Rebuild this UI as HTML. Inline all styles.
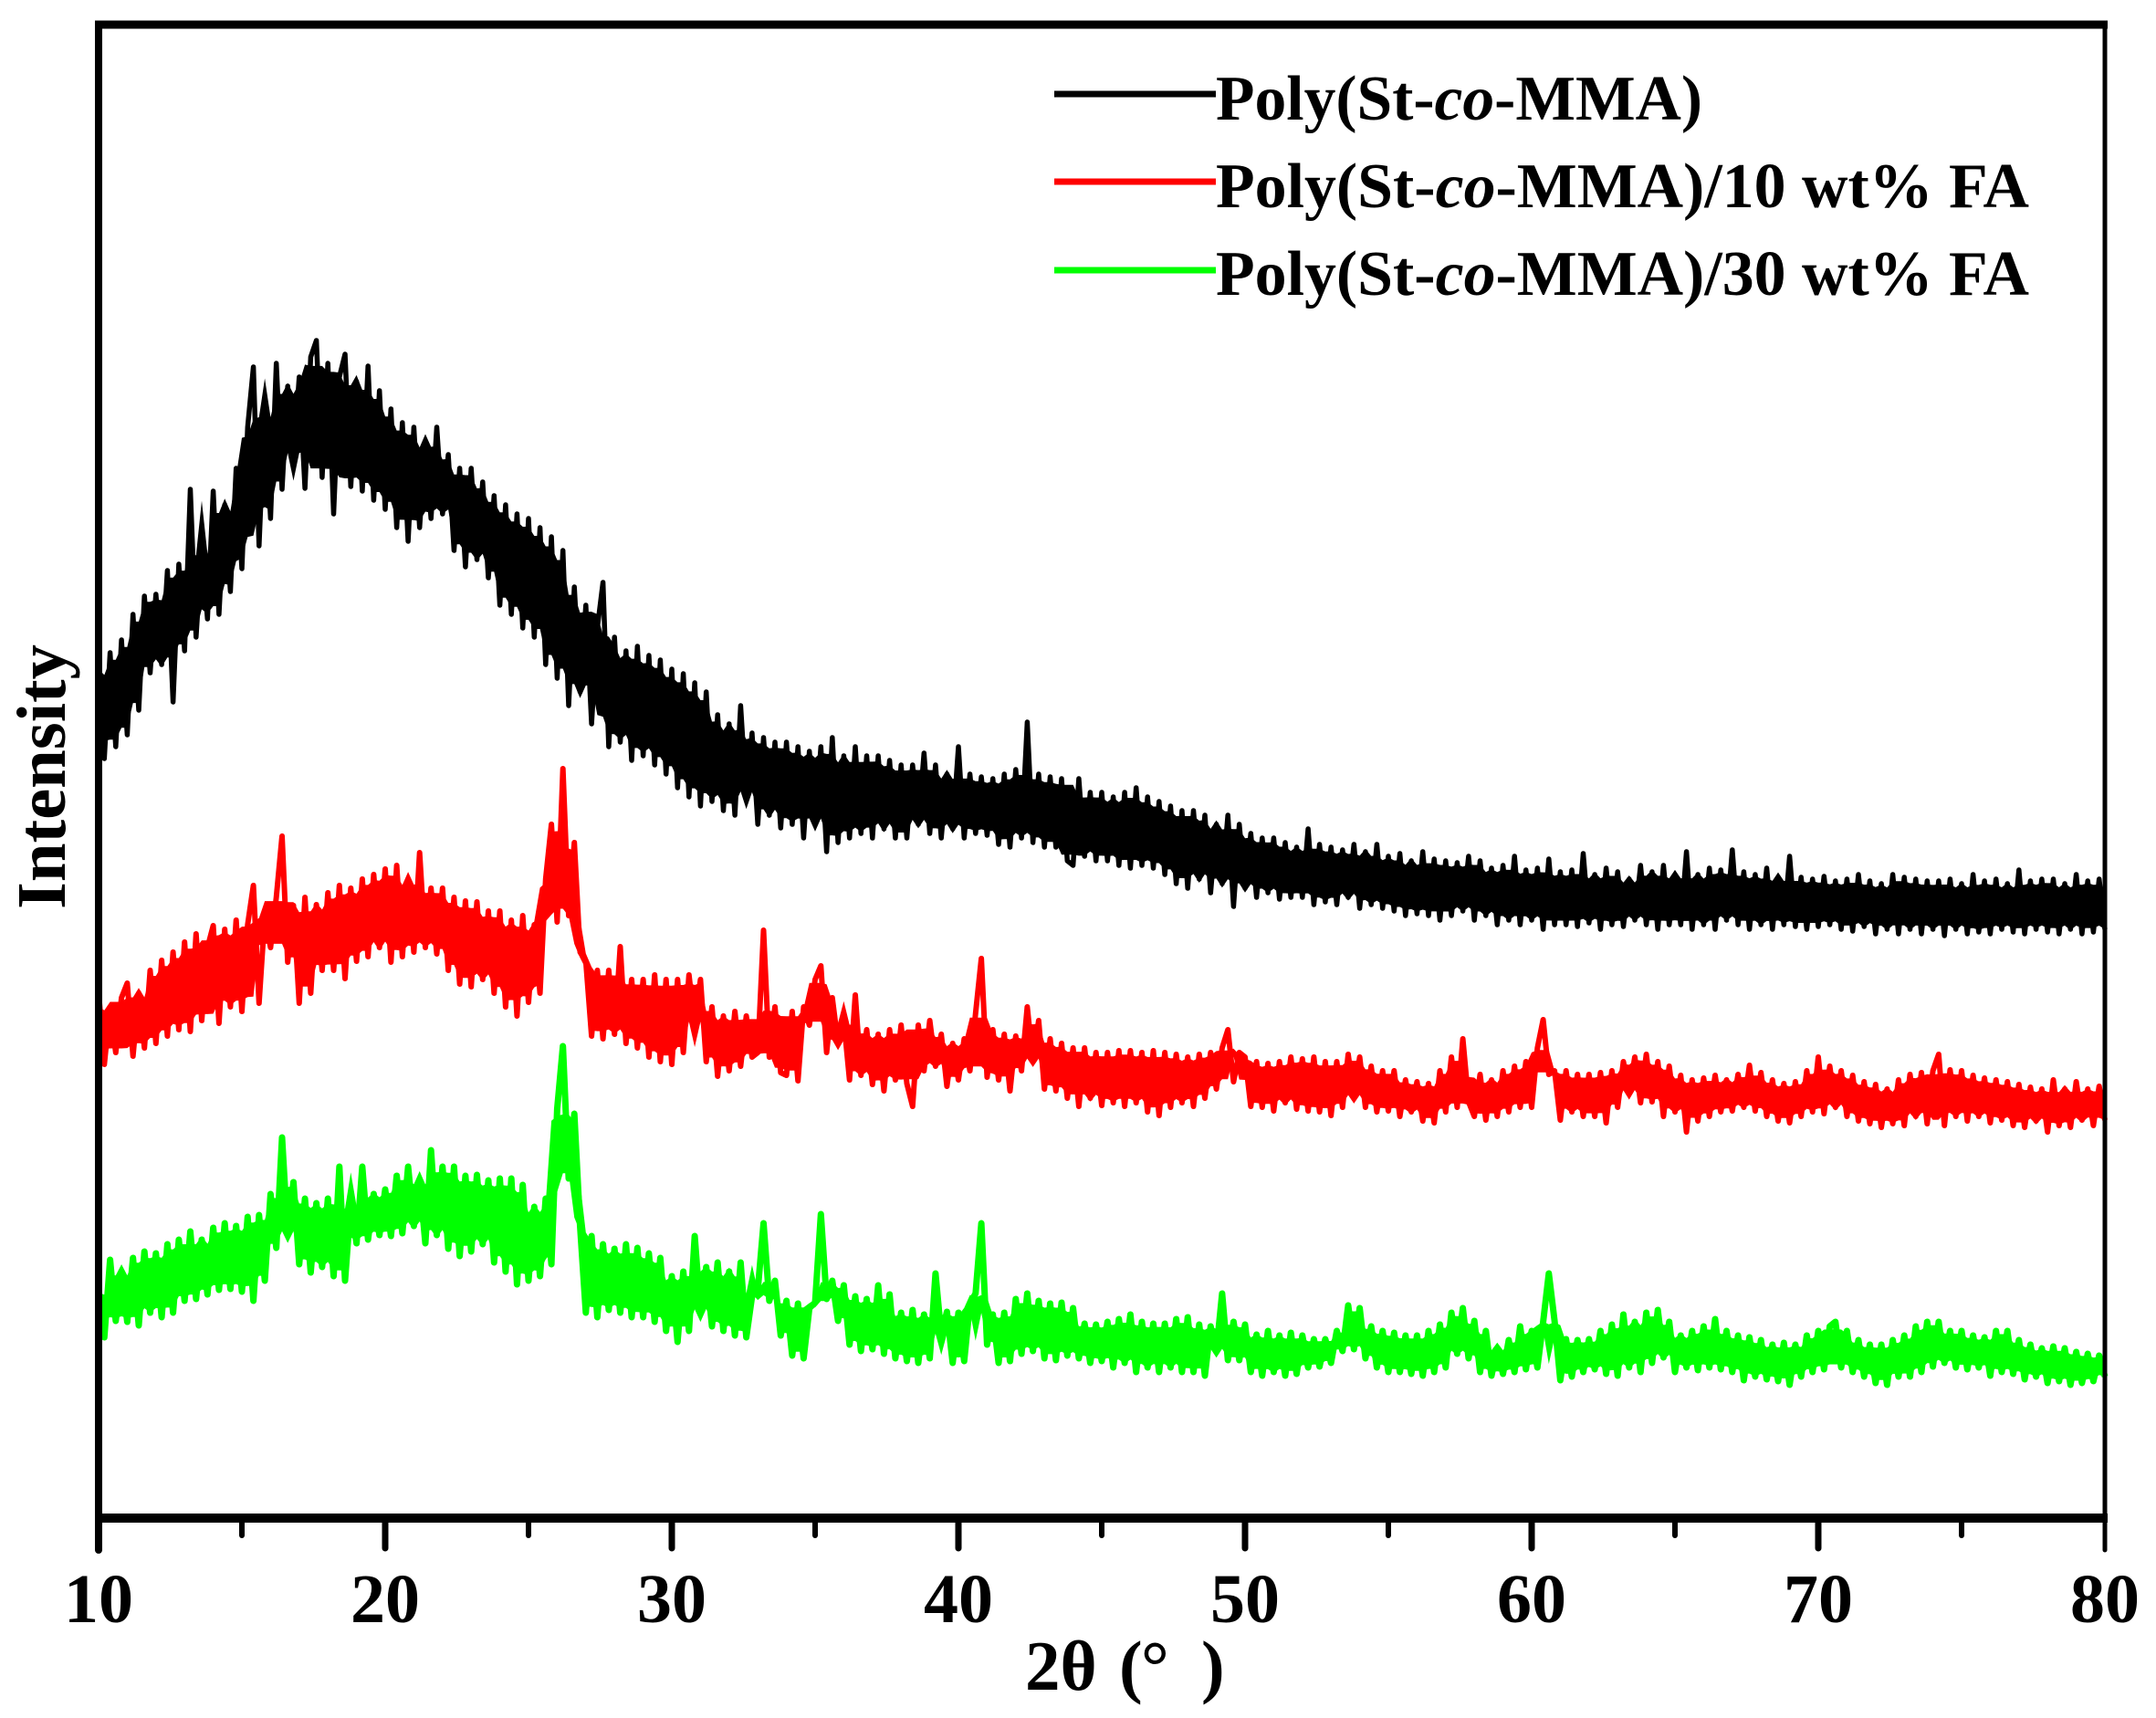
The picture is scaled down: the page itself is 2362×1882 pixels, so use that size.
<!DOCTYPE html>
<html lang="en">
<head>
<meta charset="utf-8">
<title>XRD patterns of Poly(St-co-MMA) and fly ash composites</title>
<style>
html,body{margin:0;padding:0;background:#fff;}
svg{display:block;}
text{font-family:"Liberation Serif",serif;font-weight:bold;fill:#000;}
</style>
</head>
<body>
<svg id="chart" xmlns="http://www.w3.org/2000/svg" width="2362" height="1882" viewBox="0 0 2362 1882">
  <rect x="0" y="0" width="2362" height="1882" fill="#fff"/>
  <g id="series-layer"></g>
  <g id="axis-layer"></g>
  <g>
    <line x1="1155" x2="1332" y1="103" y2="103" stroke="#000" stroke-width="7"/>
    <text x="1332" y="131" font-size="70" textLength="533" lengthAdjust="spacingAndGlyphs">Poly(St-<tspan font-style="italic">co</tspan>-MMA)</text>
    <line x1="1155" x2="1332" y1="199" y2="199" stroke="#ff0000" stroke-width="7"/>
    <text x="1332" y="227" font-size="70" textLength="891" lengthAdjust="spacingAndGlyphs">Poly(St-<tspan font-style="italic">co</tspan>-MMA)/10 wt% FA</text>
    <line x1="1155" x2="1332" y1="296" y2="296" stroke="#00ff00" stroke-width="7"/>
    <text x="1332" y="323" font-size="70" textLength="891" lengthAdjust="spacingAndGlyphs">Poly(St-<tspan font-style="italic">co</tspan>-MMA)/30 wt% FA</text>
  </g>
  <text x="0" y="0" font-size="76" text-anchor="middle" textLength="290" lengthAdjust="spacingAndGlyphs" transform="translate(71 851) rotate(-90)">Intensity</text>
  <text y="1851" font-size="77"><tspan x="1123">2θ</tspan><tspan x="1226">(</tspan><tspan x="1250">°</tspan><tspan x="1316">)</tspan></text>
</svg>
<script>
// 2θ sampling of the traces (degrees)
const thetaStart = 10;
const thetaStep = 0.2;
// x axis
const xMin = 10;
const xMax = 80;
const majorTicks = [10, 20, 30, 40, 50, 60, 70, 80];
const minorTicks = [15, 25, 35, 45, 55, 65, 75];
// y axis (arbitrary intensity units, no printed ticks)
const yMin = 0;
const yMax = 1636;

// Poly(St-co-MMA)
const intensityCopolymer = [
930,832,948,845,962, 858,990,885,1010,926, 1012,935,1038,894,1045, 950,1127,965,1062,985,
1125,990,1110,1015,1150, 1040,1195,1261,1065,1215, 1095,1265,1127,1240,1160, 1250,1128,1272,1290,1140,
1265,1100,1250,1275,1130, 1245,1125,1262,1115,1235, 1105,1215,1085,1200,1070, 1195,1085,1180,1095,1195,
1100,1165,1060,1150,1042, 1150,1050,1135,1030,1120, 1000,1110,990,1100,975, 1095,965,1085,935,1075,
920,1060,890,1020,905, 1000,870,975,1025,845, 965,850,950,830,955, 835,945,825,940,815,
930,800,925,790,915, 780,905,785,880,775, 870,770,890,790,860, 760,855,770,850,756,
850,760,845,745,840, 760,845,730,855,740, 835,745,845,750,835, 745,835,755,830,745,
825,745,825,760,838, 750,825,745,815,755, 845,745,815,750,812, 748,810,738,815,735,
820,745,872,740,815, 735,812,735,810,720, 715,810,725,795,720, 795,720,790,715,795,
712,800,715,790,712, 785,705,780,695,775, 690,775,700,770,685, 760,695,770,670,760,
690,750,680,745,685, 745,678,740,680,735, 680,755,672,738,675, 735,672,732,680,738,
668,730,672,738,668, 725,665,728,660,720, 662,730,660,722,655, 720,660,718,665,725,
655,720,660,712,650, 715,655,725,650,710, 655,712,645,722,650, 708,650,710,648,728,
652,705,645,712,650, 708,648,700,655,715, 650,708,645,715,650, 705,650,730,645,705,
650,712,645,710,655, 732,650,708,645,705, 650,712,645,702,650, 725,648,702,645,700,
648,703,650,698,645, 700,643,705,648,698, 640,695,645,705,640, 702,645,700,640,698,
645,698,638,700,645, 695,640,705,642,698, 640,700,645,695,642, 710,640,698,645,700,
642,700,640,695,645, 705,640,698,642,700, 645
];

// Poly(St-co-MMA)/10 wt% FA
const intensityFa10 = [
577,497,560,510,570, 586,506,575,515,600, 520,611,528,620,535, 631,533,640,545,625,
649,542,645,560,655, 555,650,693,564,660, 625,680,747,609,671, 564,680,575,672,600,
685,600,693,591,690, 610,700,615,705,625, 711,609,715,615,700, 620,729,625,690,618,
690,600,680,585,676, 582,675,590,665,575, 665,560,655,550,660, 565,650,575,700,760,
653,821,660,740,620, 610,528,600,525,600, 530,626,520,590,515, 590,505,595,500,590,
497,590,510,595,540, 590,500,560,484,550, 490,555,495,550,505, 510,644,505,560,488,
485,555,479,560,540, 590,605,510,570,520, 545,480,573,485,535, 475,530,468,535,480,
540,476,451,540,490, 545,495,530,473,520, 480,525,490,553,613, 483,535,480,530,468,
528,490,560,500,545, 470,525,468,520,460, 515,451,515,460,510, 452,510,455,512,451,
512,455,510,445,512, 441,510,450,508,455, 505,451,508,460,510, 470,515,535,478,510,
505,451,500,450,498, 446,500,455,505,448, 503,446,505,445,500, 441,500,450,508,460,
505,450,495,445,490, 446,490,440,480,445, 478,435,476,433,490, 445,505,450,525,456,
440,486,436,480,440, 490,445,495,450,500, 450,515,546,486,490, 436,490,445,486,440,
486,440,488,433,490, 450,500,466,505,455, 508,456,500,440,495, 445,485,423,480,435,
482,440,485,445,480, 446,486,450,496,446, 488,440,480,435,476, 433,478,440,490,445,
505,443,495,450,490, 440,485,435,478,432, 475,428,470,432,480, 430,486,440,488,432,
490,508,430,491,440, 490,435,485,440,482, 433,480,436,478,430, 475,428,472,435,470,
423,480,430,470,428, 478,436,470,430,473, 436
];

// Poly(St-co-MMA)/30 wt% FA
const intensityFa30 = [
247,198,283,216,270, 215,285,211,292,225, 290,220,300,225,305, 238,314,240,305,245,
318,250,323,251,320, 248,330,238,332,260, 355,296,417,310,368, 278,350,269,345,275,
350,265,385,260,345, 301,385,305,355,310, 360,309,375,312,385, 320,370,301,403,310,
385,295,385,287,375, 292,376,300,370,280, 372,270,372,256,365, 260,341,265,350,278,
448,517,372,443,320, 225,309,220,300,228, 295,225,300,220,296, 220,290,215,285,205,
265,193,270,205,309, 225,275,210,280,205, 270,200,280,198,243, 250,323,238,260,200,
238,178,235,175,230, 236,333,240,260,216, 255,190,243,183,240, 185,255,180,245,175,
225,172,228,170,223, 175,268,200,226,170, 225,172,235,246,323, 190,223,170,225,172,
240,180,246,183,238, 175,235,173,236,178, 230,175,213,170,212, 172,215,165,218,170,
223,160,215,165,213, 160,213,165,218,160, 220,160,212,156,210, 183,246,173,215,173,
212,160,201,156,205, 160,200,156,203,158, 200,165,196,166,196, 170,205,183,233,185,
230,175,210,165,205, 160,203,160,200,158, 200,156,205,160,212, 165,225,180,230,175,
216,160,205,156,186, 158,195,160,210,163, 205,165,215,268,216, 151,196,155,195,160,
196,163,205,158,212, 156,223,165,215,160, 225,170,228,176,215, 160,200,165,205,162,
210,165,218,163,205, 160,200,151,198,155, 195,152,190,150,192, 146,190,155,200,160,
205,163,210,215,165, 205,160,195,155,190, 148,190,146,195,155, 200,155,210,160,215,
166,215,170,205,165, 205,163,200,165,198, 156,205,160,205,158, 195,152,190,155,186,
148,188,150,186,146, 182,148,180,150,178, 155
];

const plotLeft = 108;
const plotRight = 2306;
const plotTop = 27;
const plotBottom = 1663;
const coreFraction = 0.85;
const coreWindow = 2;
const svgNS = 'http://www.w3.org/2000/svg';

function xScale(theta) {
  return plotLeft + (theta - xMin) / (xMax - xMin) * (plotRight - plotLeft);
}
function yScale(value) {
  return plotBottom - (value - yMin) / (yMax - yMin) * (plotBottom - plotTop);
}
function tracePoints(values) {
  return values.map(function (v, i) {
    return xScale(thetaStart + i * thetaStep).toFixed(1) + ',' + yScale(v).toFixed(1);
  }).join(' ');
}
// Solid noise core: at each sample, the span between the second-lowest and
// second-highest neighbouring values, so isolated spikes stay thin lines.
function corePoints(values) {
  const upper = [];
  const lower = [];
  for (let i = 0; i < values.length; i++) {
    const win = values.slice(Math.max(0, i - coreWindow), i + coreWindow + 1).sort(function (a, b) { return a - b; });
    const hi = win[win.length - 2];
    const lo = win[1];
    const mid = (hi + lo) / 2;
    const half = (hi - lo) / 2 * coreFraction;
    const x = xScale(thetaStart + i * thetaStep).toFixed(1);
    upper.push(x + ',' + yScale(mid + half).toFixed(1));
    lower.unshift(x + ',' + yScale(mid - half).toFixed(1));
  }
  return upper.concat(lower).join(' ');
}
function makeLine(x1, y1, x2, y2, width, cap) {
  const el = document.createElementNS(svgNS, 'line');
  el.setAttribute('x1', x1);
  el.setAttribute('y1', y1);
  el.setAttribute('x2', x2);
  el.setAttribute('y2', y2);
  el.setAttribute('stroke', '#000');
  el.setAttribute('stroke-width', width);
  el.setAttribute('stroke-linecap', cap);
  return el;
}

const seriesLayer = document.getElementById('series-layer');
const axisLayer = document.getElementById('axis-layer');

const coreBlack = document.createElementNS(svgNS, 'polygon');


coreBlack.setAttribute('points', corePoints(intensityCopolymer));
coreBlack.setAttribute('fill', '#000000');
seriesLayer.appendChild(coreBlack);

const traceBlack = document.createElementNS(svgNS, 'polyline');


traceBlack.setAttribute('points', tracePoints(intensityCopolymer));
traceBlack.setAttribute('fill', 'none');
traceBlack.setAttribute('stroke', '#000000');
traceBlack.setAttribute('stroke-width', '5.5');
traceBlack.setAttribute('stroke-linejoin', 'round');
seriesLayer.appendChild(traceBlack);

const coreRed = document.createElementNS(svgNS, 'polygon');


coreRed.setAttribute('points', corePoints(intensityFa10));
coreRed.setAttribute('fill', '#ff0000');
seriesLayer.appendChild(coreRed);

const traceRed = document.createElementNS(svgNS, 'polyline');


traceRed.setAttribute('points', tracePoints(intensityFa10));
traceRed.setAttribute('fill', 'none');
traceRed.setAttribute('stroke', '#ff0000');
traceRed.setAttribute('stroke-width', '6');
traceRed.setAttribute('stroke-linejoin', 'round');
seriesLayer.appendChild(traceRed);

const coreGreen = document.createElementNS(svgNS, 'polygon');


coreGreen.setAttribute('points', corePoints(intensityFa30));
coreGreen.setAttribute('fill', '#00ff00');
seriesLayer.appendChild(coreGreen);

const traceGreen = document.createElementNS(svgNS, 'polyline');


traceGreen.setAttribute('points', tracePoints(intensityFa30));
traceGreen.setAttribute('fill', 'none');
traceGreen.setAttribute('stroke', '#00ff00');
traceGreen.setAttribute('stroke-width', '7');
traceGreen.setAttribute('stroke-linejoin', 'round');
seriesLayer.appendChild(traceGreen);

const axisLeft = makeLine(plotLeft, plotTop, plotLeft, plotBottom + 35, 8, 'round');


axisLayer.appendChild(axisLeft);

const axisRight = makeLine(plotRight, plotTop, plotRight, plotBottom + 35, 5, 'round');


axisLayer.appendChild(axisRight);

const axisTop = makeLine(plotLeft - 4, plotTop, plotRight + 3, plotTop, 9, 'butt');


axisLayer.appendChild(axisTop);

const axisBottom = makeLine(plotLeft - 4, plotBottom, plotRight + 3, plotBottom, 10, 'butt');


axisLayer.appendChild(axisBottom);

majorTicks.forEach(function (t) {
  if (t !== xMin && t !== xMax) {
    const tick = makeLine(xScale(t), plotBottom, xScale(t), plotBottom + 33, 7, 'round');
    
    
    axisLayer.appendChild(tick);
  }
  const label = document.createElementNS(svgNS, 'text');
  
  
  label.setAttribute('x', xScale(t));
  label.setAttribute('y', 1777);
  label.setAttribute('font-size', 76);
  label.setAttribute('text-anchor', 'middle');
  label.textContent = String(t);
  axisLayer.appendChild(label);
});

minorTicks.forEach(function (t) {
  const tick = makeLine(xScale(t), plotBottom, xScale(t), plotBottom + 19, 6, 'round');
  
  
  axisLayer.appendChild(tick);
});
</script>
</body>
</html>
